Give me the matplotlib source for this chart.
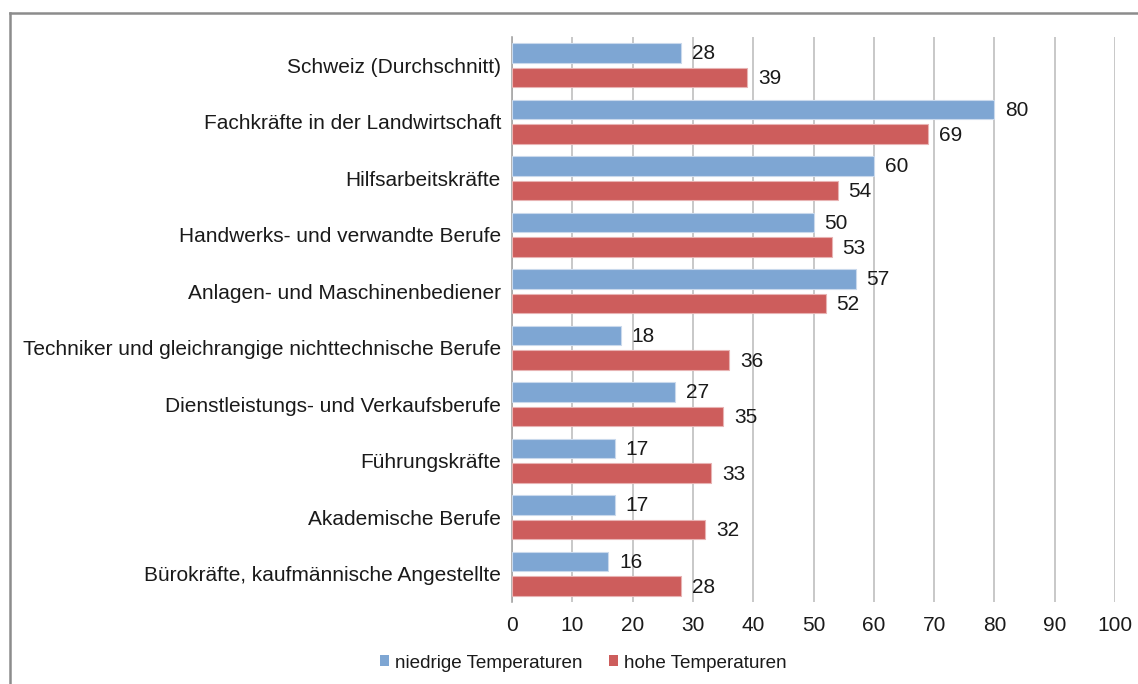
import numpy as np
import matplotlib
matplotlib.use('Agg')
import matplotlib.pyplot as plt
from matplotlib.lines import Line2D
from matplotlib.patches import Patch

plt.rcParams['font.family'] = ['Liberation Sans', 'DejaVu Sans']

categories = ['Schweiz (Durchschnitt)',
              'Fachkräfte in der Landwirtschaft',
              'Hilfsarbeitskräfte',
              'Handwerks- und verwandte Berufe',
              'Anlagen- und Maschinenbediener',
              'Techniker und gleichrangige nichttechnische Berufe',
              'Dienstleistungs- und Verkaufsberufe',
              'Führungskräfte',
              'Akademische Berufe',
              'Bürokräfte, kaufmännische Angestellte']
niedrig = [28, 80, 60, 50, 57, 18, 27, 17, 17, 16]
hoch = [39, 69, 54, 53, 52, 36, 35, 33, 32, 28]
xticks = [0, 10, 20, 30, 40, 50, 60, 70, 80, 90, 100]

blue = '#7ea6d3'
red = '#cd5d5c'
fs = 15
tc = '#1a1a1a'

fig = plt.figure(figsize=(11.38, 6.84), dpi=100)
ax = fig.add_axes([512/1138, 1-602/684, (1115-512)/1138, (602-37)/684])

y = np.arange(len(categories))
h = 0.345
ax.barh(y - 0.22, niedrig, height=h, color=blue, edgecolor='#c9d9ec', linewidth=0.8, zorder=3)
ax.barh(y + 0.22, hoch, height=h, color=red, edgecolor='#e8b3b3', linewidth=0.8, zorder=3)

for yi, v in zip(y, niedrig):
    ax.text(v + 1.8, yi - 0.20, str(v), va='center', ha='left', fontsize=fs, color=tc)
for yi, v in zip(y, hoch):
    ax.text(v + 1.8, yi + 0.24, str(v), va='center', ha='left', fontsize=fs, color=tc)

ax.set_ylim(len(categories) - 0.5, -0.5)
ax.set_xlim(0, 100)
ax.set_yticks(y)
ax.set_yticklabels(categories, fontsize=fs, color=tc)
ax.set_xticks(xticks)
ax.set_xticklabels([str(t) for t in xticks], fontsize=fs, color=tc)
ax.tick_params(axis='y', length=0, pad=8)
ax.tick_params(axis='x', length=0, pad=10)
ax.grid(axis='x', color='#bfbfbf', linewidth=1.2, zorder=0)
for s in ['top', 'right', 'bottom']:
    ax.spines[s].set_visible(False)
ax.spines['left'].set_color('#a6a6a6')
ax.spines['left'].set_linewidth(1.2)

handles = [Patch(facecolor=blue, label='niedrige Temperaturen'),
           Patch(facecolor=red, label='hohe Temperaturen')]
fig.legend(handles=handles, loc='center', bbox_to_anchor=(583/1138, 1-663/684), ncol=2,
           frameon=False, fontsize=13.6, handlelength=0.5, handleheight=0.5,
           handletextpad=0.3, columnspacing=1.4, labelcolor=tc)

# outer chart frame (clipped at right and bottom)
fig.add_artist(Line2D([10/1138, 1], [1-13/684, 1-13/684], color='#8c8c8c', linewidth=1.8))
fig.add_artist(Line2D([10/1138, 10/1138], [0, 1-13/684], color='#8c8c8c', linewidth=1.8))

fig.savefig('out.png', dpi=100)
